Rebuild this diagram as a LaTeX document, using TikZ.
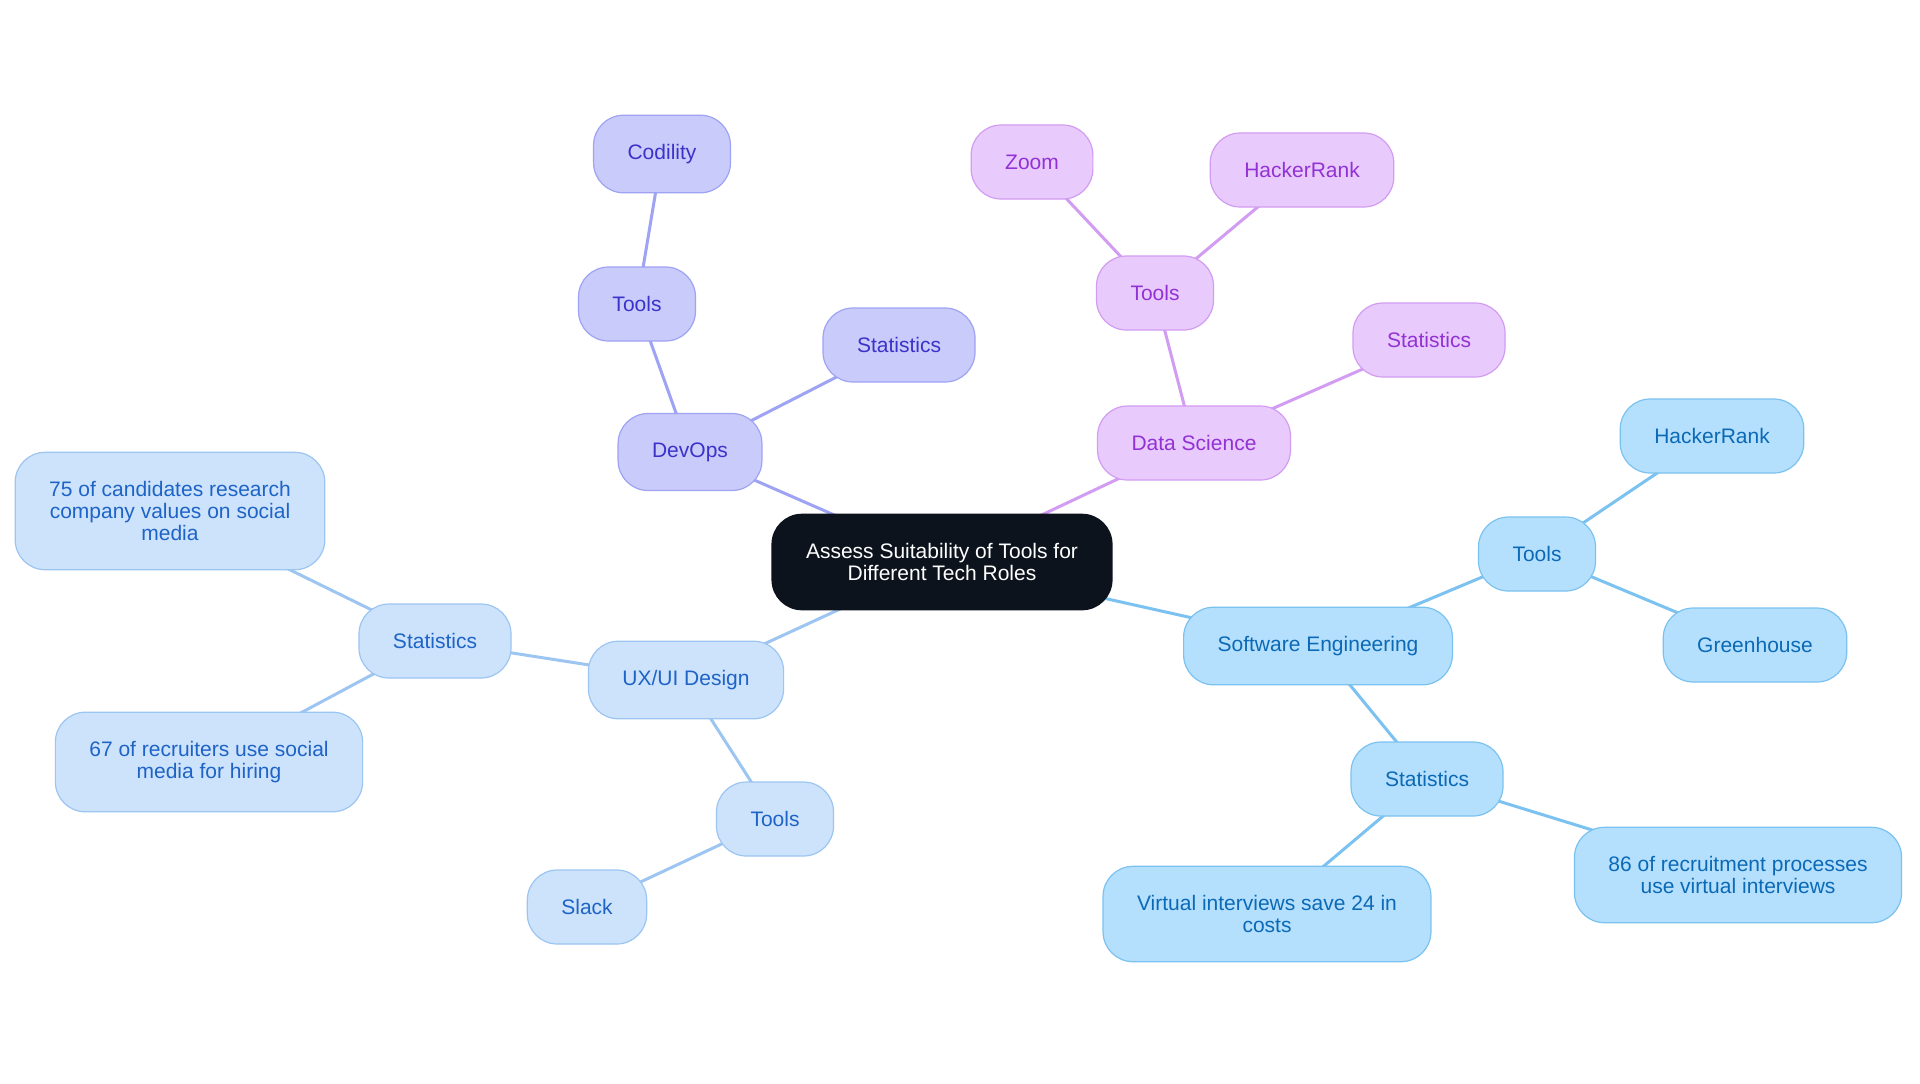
\documentclass[tikz,border=0pt]{standalone}
\usepackage{fontspec}
\setmainfont{Liberation Sans}
\usetikzlibrary{backgrounds}

\definecolor{rootfill}{HTML}{0D131D}
\definecolor{devfill}{HTML}{C9CBFB}
\definecolor{devline}{HTML}{9EA3F3}
\definecolor{devtext}{HTML}{3B32C9}
\definecolor{dsfill}{HTML}{E8CBFC}
\definecolor{dsline}{HTML}{D29CF2}
\definecolor{dstext}{HTML}{9231D4}
\definecolor{sefill}{HTML}{B4E0FD}
\definecolor{seline}{HTML}{7CC2F0}
\definecolor{setext}{HTML}{0B69B5}
\definecolor{uxfill}{HTML}{CDE3FB}
\definecolor{uxline}{HTML}{9DC5F2}
\definecolor{uxtext}{HTML}{1E63C6}

\tikzset{
	box/.style={draw, rounded corners=15pt, align=center, minimum height=37pt,
		inner xsep=17pt, inner ysep=14.5pt, line width=0.6pt,
		font=\fontsize{10.5}{11}\selectfont},
	root/.style={box, fill=rootfill, draw=rootfill, text=white},
	devbox/.style={box, fill=devfill, draw=devline, text=devtext},
	dsbox/.style={box, fill=dsfill, draw=dsline, text=dstext},
	sebox/.style={box, fill=sefill, draw=seline, text=setext},
	uxbox/.style={box, fill=uxfill, draw=uxline, text=uxtext},
	devedge/.style={draw=devline, line width=1.5pt},
	dsedge/.style={draw=dsline, line width=1.5pt},
	seedge/.style={draw=seline, line width=1.5pt},
	uxedge/.style={draw=uxline, line width=1.5pt}
}

\begin{document}
\begin{tikzpicture}[x=0.5pt, y=-0.5pt]
\useasboundingbox (0,0) rectangle (1920,1083);
\node[root] (root) at (942,562) {Assess Suitability of Tools for\\Different Tech Roles};

\node[devbox] (devops) at (690,452) {DevOps};
\node[devbox] (devtools) at (637,304) {Tools};
\node[devbox] (codility) at (662,154) {Codility};
\node[devbox] (devstats) at (899,345) {Statistics};

\node[dsbox] (datasci) at (1194,443) {Data Science};
\node[dsbox] (dstools) at (1155,293) {Tools};
\node[dsbox] (zoom) at (1032,162) {Zoom};
\node[dsbox] (dshacker) at (1302,170) {HackerRank};
\node[dsbox] (dsstats) at (1429,340) {Statistics};

\node[sebox] (softeng) at (1318,646) {Software Engineering};
\node[sebox] (setools) at (1537,554) {Tools};
\node[sebox] (sehacker) at (1712,436) {HackerRank};
\node[sebox] (greenhouse) at (1755,645) {Greenhouse};
\node[sebox] (sestats) at (1427,779) {Statistics};
\node[sebox] (virtual) at (1267,914) {Virtual interviews save 24 in\\costs};
\node[sebox] (recruit) at (1738,875) {86 of recruitment processes\\use virtual interviews};

\node[uxbox] (uxui) at (686,680) {UX/UI Design};
\node[uxbox] (uxstats) at (435,641) {Statistics};
\node[uxbox] (candidates) at (170,511) {75 of candidates research\\company values on social\\media};
\node[uxbox] (recruiters) at (209,762) {67 of recruiters use social\\media for hiring};
\node[uxbox] (uxtools) at (775,819) {Tools};
\node[uxbox] (slack) at (587,907) {Slack};

\begin{scope}[on background layer]
\fill[white] (0,0) rectangle (1920,1083);
\draw[devedge] (root.center) -- (devops.center);
\draw[devedge] (devops.center) -- (devtools.center);
\draw[devedge] (devtools.center) -- (codility.center);
\draw[devedge] (devops.center) -- (devstats.center);
\draw[dsedge] (root.center) -- (datasci.center);
\draw[dsedge] (datasci.center) -- (dstools.center);
\draw[dsedge] (dstools.center) -- (zoom.center);
\draw[dsedge] (dstools.center) -- (dshacker.center);
\draw[dsedge] (datasci.center) -- (dsstats.center);
\draw[seedge] (root.center) -- (softeng.center);
\draw[seedge] (softeng.center) -- (setools.center);
\draw[seedge] (setools.center) -- (sehacker.center);
\draw[seedge] (setools.center) -- (greenhouse.center);
\draw[seedge] (softeng.center) -- (sestats.center);
\draw[seedge] (sestats.center) -- (virtual.center);
\draw[seedge] (sestats.center) -- (recruit.center);
\draw[uxedge] (root.center) -- (uxui.center);
\draw[uxedge] (uxui.center) -- (uxstats.center);
\draw[uxedge] (uxstats.center) -- (candidates.center);
\draw[uxedge] (uxstats.center) -- (recruiters.center);
\draw[uxedge] (uxui.center) -- (uxtools.center);
\draw[uxedge] (uxtools.center) -- (slack.center);
\end{scope}
\end{tikzpicture}
\end{document}
